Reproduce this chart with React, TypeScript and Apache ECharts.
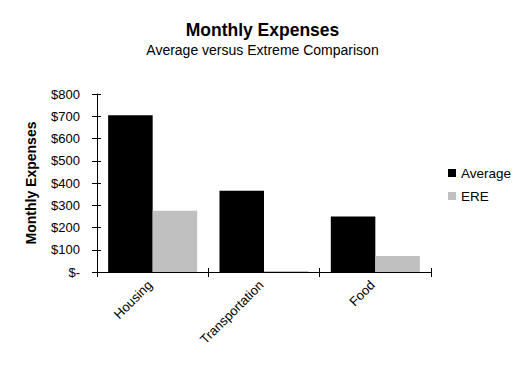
import React, { useEffect, useRef } from "react";
import * as echarts from "echarts";

const categories = ["Housing", "Transportation", "Food"];
const averageValues = [705, 365, 250];
const ereValues = [275, 5, 72];
const yTicks = [0, 100, 200, 300, 400, 500, 600, 700, 800];

const FONT = "'Liberation Sans', Arial, sans-serif";

export default function App() {
  const ref = useRef<HTMLDivElement>(null);
  useEffect(() => {
    if (!ref.current) return;
    const chart = echarts.init(ref.current, null, { renderer: "svg" });
    const yMax = yTicks[yTicks.length - 1];
    const yInterval = yTicks[1] - yTicks[0];
    chart.setOption({
      animation: false,
      backgroundColor: "#ffffff",
      textStyle: { fontFamily: FONT },
      title: [
        {
          text: "Monthly Expenses",
          left: "center",
          top: 16,
          textStyle: { fontFamily: FONT, fontSize: 17.5, fontWeight: "bold", color: "#000" },
        },
        {
          text: "Average versus Extreme Comparison",
          left: "center",
          top: 38,
          textStyle: { fontFamily: FONT, fontSize: 14, fontWeight: "normal", color: "#000" },
        },
      ],
      legend: {
        orient: "vertical",
        left: 443,
        top: 161,
        itemWidth: 8,
        itemHeight: 8,
        itemGap: 9,
        icon: "rect",
        textStyle: { fontFamily: FONT, fontSize: 13.5, color: "#000" },
        data: ["Average", "ERE"],
      },
      grid: { left: 97, right: 94, top: 94, bottom: 97, containLabel: false },
      xAxis: [
        {
          type: "category",
          data: categories,
          axisLine: { lineStyle: { color: "#000", width: 1 } },
          axisTick: { show: true, length: 5, lineStyle: { color: "#000" } },
          axisLabel: {
            rotate: 45,
            fontSize: 13,
            color: "#000",
            fontFamily: FONT,
            margin: 8,
            padding: [0, 4, 0, 0],
          },
        },
        {
          type: "category",
          data: categories,
          position: "bottom",
          axisLine: { show: false },
          axisTick: { show: true, inside: true, length: 4, lineStyle: { color: "#000" } },
          axisLabel: { show: false },
        },
      ],
      yAxis: [
        {
          type: "value",
          min: 0,
          max: yMax,
          interval: yInterval,
          name: "Monthly Expenses",
          nameLocation: "middle",
          nameGap: 59,
          nameTextStyle: { fontFamily: FONT, fontSize: 14, fontWeight: "bold", color: "#000" },
          axisLine: { show: true, lineStyle: { color: "#000", width: 1 } },
          axisTick: { show: true, length: 5, lineStyle: { color: "#000" } },
          splitLine: { show: false },
          axisLabel: {
            fontSize: 13,
            color: "#000",
            fontFamily: FONT,
            margin: 17,
            formatter: (v: number) => (v === 0 ? "$-" : "$" + v),
          },
        },
        {
          type: "value",
          min: 0,
          max: yMax,
          interval: yInterval,
          position: "left",
          axisLine: { show: false },
          axisTick: { show: true, inside: true, length: 4, lineStyle: { color: "#000" } },
          splitLine: { show: false },
          axisLabel: { show: false },
        },
      ],
      series: [
        {
          name: "Average",
          type: "bar",
          data: averageValues,
          barGap: "0%",
          barCategoryGap: "20%",
          itemStyle: { color: "#000000" },
        },
        {
          name: "ERE",
          type: "bar",
          data: ereValues,
          barGap: "0%",
          barCategoryGap: "20%",
          itemStyle: { color: "#c0c0c0" },
        },
      ],
    });
    return () => chart.dispose();
  }, []);
  return <div ref={ref} style={{ width: 525, height: 369, margin: -8 }} />;
}
